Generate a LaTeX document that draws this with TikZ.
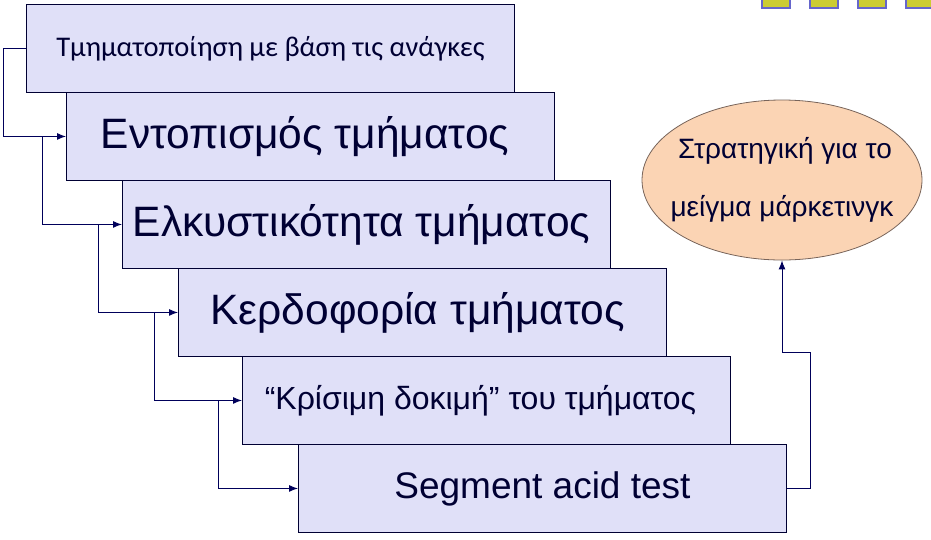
\documentclass[tikz,border=0pt]{standalone}
\usepackage{fontspec}
\setmainfont{Liberation Sans}
\newfontfamily\calfont{Carlito}
\usetikzlibrary{shapes.geometric,arrows.meta}
\definecolor{boxfill}{RGB}{224,224,248}
\definecolor{navy}{RGB}{0,0,51}
\definecolor{connc}{RGB}{0,0,90}
\definecolor{ellfill}{RGB}{251,212,180}
\definecolor{elldraw}{RGB}{120,100,90}
\definecolor{sqfill}{RGB}{204,204,51}
\definecolor{sqdraw}{RGB}{102,102,204}
\tikzset{
  stepbox/.style={draw=navy, line width=0.9pt, fill=boxfill, text=navy, minimum width=488pt, minimum height=88pt, anchor=north west, inner sep=0pt},
  conn/.style={draw=connc, line width=1pt},
  arr/.style={conn, -{Latex[length=9pt,width=7pt]}},
  sq/.style={draw=sqdraw, fill=sqfill, line width=1.5pt}
}
\begin{document}
\begin{tikzpicture}[x=1pt,y=-1pt]
\useasboundingbox (0,0) rectangle (931,539);
\fill[white] (0,0) rectangle (931,539);
% decorative squares
\draw[sq] (762,-5) rectangle (790,8);
\draw[sq] (810,-5) rectangle (838,8);
\draw[sq] (858,-5) rectangle (886,8);
\draw[sq] (906,-5) rectangle (934,8);
% boxes
\node[stepbox, font=\calfont\fontsize{28.5}{32}\selectfont] (b1) at (26,4) {Τμηματοποίηση με βάση τις ανάγκες};
\node[stepbox, font=\fontsize{42.5}{48}\selectfont] (b2) at (66,92) {\hspace*{-11pt}Εντοπισμός τμήματος};
\node[stepbox, font=\fontsize{42.5}{48}\selectfont] (b3) at (122,180) {\hspace*{-10pt}Ελκυστικότητα τμήματος};
\node[stepbox, font=\fontsize{42.5}{48}\selectfont] (b4) at (178,268) {\hspace*{-10pt}Κερδοφορία τμήματος};
\node[stepbox, font=\fontsize{32}{38}\selectfont] (b5) at (242,356) {\hspace*{-12pt}“Κρίσιμη δοκιμή” του τμήματος};
\node[stepbox, font=\fontsize{37}{42}\selectfont] (b6) at (298,444) {Segment acid test};
% ellipse
\node[ellipse, draw=elldraw, line width=0.8pt, fill=ellfill, text=navy, minimum width=280pt, minimum height=160pt, inner xsep=-60pt, inner ysep=-30pt, align=center, font=\fontsize{28}{58}\selectfont] (ell) at (782,180) {\hspace*{6pt}Στρατηγική για το\\μείγμα μάρκετινγκ};
% connector coordinates
\coordinate (v1) at (3,0);
\coordinate (v2) at (42,0);
\coordinate (v3) at (98,0);
\coordinate (v4) at (154,0);
\coordinate (v5) at (218,0);
\coordinate (v6) at (810,0);
\coordinate (h) at (0,352);
% connectors
\draw[arr] (b1.west) -- (b1.west -| v1) |- (b2.west);
\draw[arr] (b2.west -| v2) |- (b3.west);
\draw[arr] (b3.west -| v3) |- (b4.west);
\draw[arr] (b4.west -| v4) |- (b5.west);
\draw[arr] (b5.west -| v5) |- (b6.west);
\draw[arr] (b6.east) -- (b6.east -| v6) -- (v6 |- h) -| (ell.south);
\end{tikzpicture}
\end{document}
